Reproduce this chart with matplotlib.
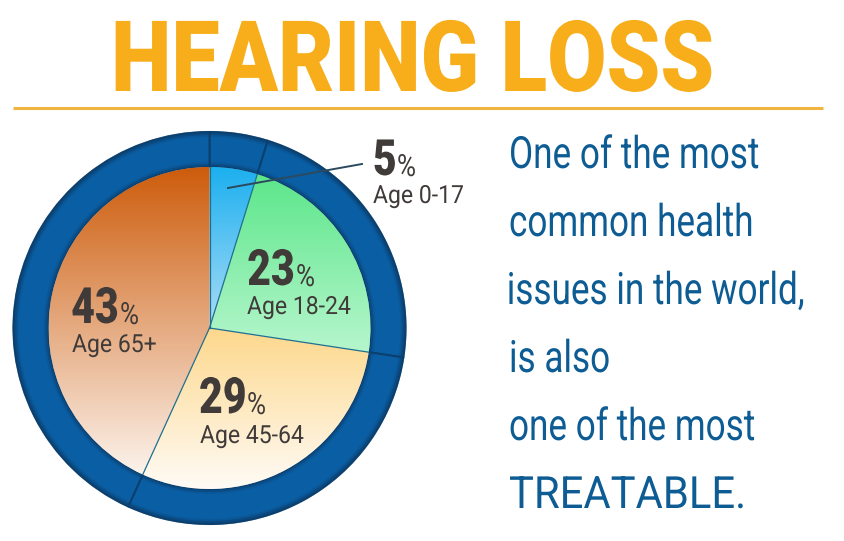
import numpy as np
import matplotlib
matplotlib.use("Agg")
import matplotlib.pyplot as plt
import matplotlib.patheffects as pe
from matplotlib.colors import LinearSegmentedColormap
from matplotlib.patches import Circle
from matplotlib.transforms import Affine2D

# shares as printed, and as the slices are actually drawn in the picture
percent_labels = ["5", "23", "29", "43"]
age_labels = ["Age 0-17", "Age 18-24", "Age 45-64", "Age 65+"]
drawn_shares = [4.8, 22.6, 29.4, 43.2]
slice_top_colors = ["#1cb0ef", "#5ce68a", "#fdd88c", "#cd5c0c"]
slice_bottom_colors = ["#aadcf7", "#b6f6cd", "#fffbf6", "#fcf3ec"]

body_lines = ["One of the most", "common health", "issues in the world,",
              "is also", "one of the most", "TREATABLE."]

TITLE_COLOR = "#f7ae1a"
BODY_COLOR = "#0e5c94"
DARK = "#403b39"
RING = "#0a5ea3"
RING_DARK = "#0a3f6e"

H = 541
CX, CY = 209.5, H - 328
R_IN, R_OUT = 161, 196


class Squeeze(pe.AbstractPathEffect):
    # the font has no condensed cut, so narrow the glyphs when drawing
    def __init__(self, sx, from_right=False):
        super().__init__()
        self.sx = sx
        self.from_right = from_right

    def draw_path(self, renderer, gc, tpath, affine, rgbFace=None):
        pivot = tpath.get_extents().x1 if self.from_right else 0
        squeeze = Affine2D().translate(-pivot, 0).scale(self.sx, 1).translate(pivot, 0)
        renderer.draw_path(gc, tpath, squeeze + affine, rgbFace)


def put(x, y, s, size, color, sx=1.0, weight="normal", right=False):
    return ax.text(x, H - y, s, fontsize=size, color=color, fontweight=weight, family="Roboto",
                   ha="right" if right else "left", va="baseline", zorder=10,
                   path_effects=[Squeeze(sx, right)])


fig = plt.figure(figsize=(8.44, 5.41), dpi=100)
ax = fig.add_axes([0, 0, 1, 1])

# outer ring
ring, _ = ax.pie(drawn_shares, radius=R_OUT, center=(CX, CY), startangle=90, counterclock=False,
                 colors=[RING] * 4,
                 wedgeprops=dict(width=R_OUT - R_IN, edgecolor=RING_DARK, linewidth=1.4))

# soft darker rims on the ring
for r, lw, a in [(R_OUT - 1, 3.0, 0.55), (R_OUT - 3, 3.0, 0.2), (R_IN + 1, 3.0, 0.5), (R_IN + 3, 3.0, 0.18)]:
    ax.add_patch(Circle((CX, CY), r, fill=False, edgecolor=RING_DARK, linewidth=lw, alpha=a, zorder=3))

# inner slices with a vertical gradient each
wedges, _ = ax.pie(drawn_shares, radius=R_IN, center=(CX, CY), startangle=90, counterclock=False,
                   colors=slice_bottom_colors)
for w, top, bottom in zip(wedges, slice_top_colors, slice_bottom_colors):
    box = w.get_path().get_extents(w.get_transform() - ax.transData)
    cmap = LinearSegmentedColormap.from_list("g", [top, bottom])
    img = ax.imshow(np.linspace(0, 1, 256).reshape(-1, 1), cmap=cmap, origin="upper", aspect="auto",
                    extent=(box.x0, box.x1, box.y0, box.y1), zorder=4)
    img.set_clip_path(w)

# thin separators between the slices, radial only
for w in wedges:
    a = np.radians(w.theta2)
    ax.plot([CX, CX + R_IN * np.cos(a)], [CY, CY + R_IN * np.sin(a)],
            color="#1f6f8f", linewidth=0.9, zorder=5)

ax.set_xlim(0, 844)
ax.set_ylim(0, H)
ax.set_aspect("auto")
ax.axis("off")

# title and rule
put(111, 91, "HEARING LOSS", 71, TITLE_COLOR, sx=0.872, weight="black")
ax.plot([13, 823], [H - 108, H - 108], color="#f2b441", linewidth=2.2, solid_capstyle="butt")

# leader for the smallest slice
ax.plot([228, 362], [H - 188, H - 164], color="#2c4a5e", linewidth=1.4, zorder=6)

# slice labels, numbers anchored on their right edge next to the % sign
number_xy = [(397, 175), (295, 285), (247, 413), (119, 323)]
percent_x = [397, 296, 247, 120]
age_xy = [(373, 203), (247, 314), (200, 443), (72, 352)]
for num, age, (nx, ny), px, (ax_, ay) in zip(percent_labels, age_labels, number_xy, percent_x, age_xy):
    put(nx, ny, num, 36, DARK, sx=0.82, weight="black", right=True)
    put(px, ny + 1, "%", 22, DARK, sx=0.85)
    put(ax_, ay, age, 18, DARK, sx=0.92)

# right-hand copy; the long line is anchored right so it stays inside the figure
body_sx = [0.79, 0.79, 0.79, 0.79, 0.79, 0.94]
for i, line in enumerate(body_lines):
    y = 168 + i * 68
    if i == 2:
        put(806, y, line, 32, BODY_COLOR, sx=body_sx[i], right=True)
    else:
        put(509, y, line, 32, BODY_COLOR, sx=body_sx[i])

fig.savefig("out.png", dpi=100, facecolor="white")
